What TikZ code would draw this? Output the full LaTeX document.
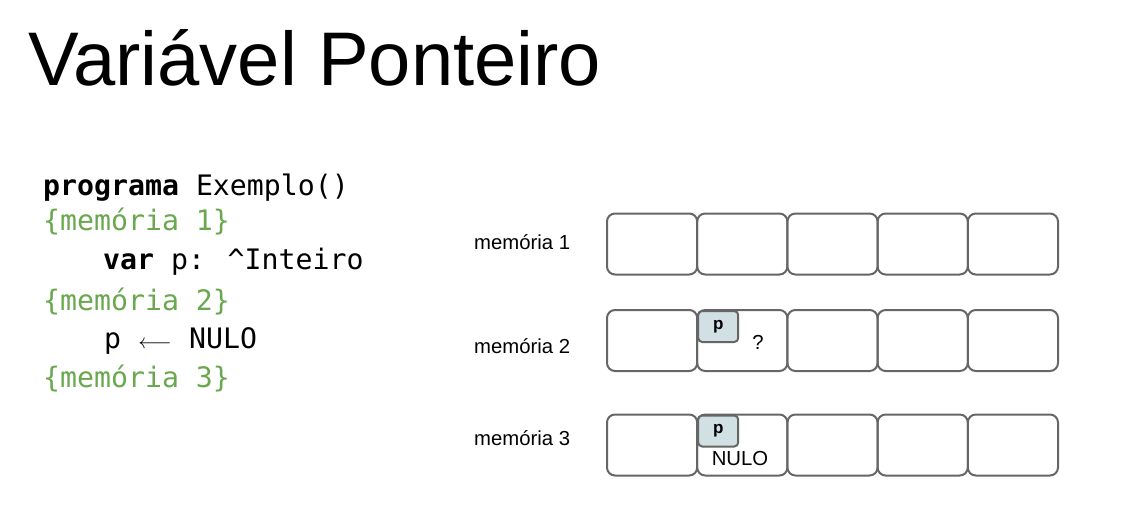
\documentclass[tikz,border=0pt]{standalone}
\usepackage{fontspec}
\setmainfont{Liberation Sans}
\newfontfamily\codefont{DejaVu Sans Mono}
\definecolor{cgreen}{HTML}{6AA84F}
\definecolor{cellgray}{HTML}{666666}
\definecolor{pfill}{HTML}{D0E0E3}
\begin{document}
\begin{tikzpicture}[x=1pt,y=-1pt,
  cell/.style={draw=cellgray,line width=2pt,rounded corners=8pt,minimum width=90.2pt,minimum height=61pt,inner sep=0pt},
  pbox/.style={draw=cellgray,fill=pfill,line width=2pt,rounded corners=4pt,minimum width=40pt,minimum height=31pt,inner sep=0pt,font=\fontsize{17}{17}\selectfont\bfseries},
  code/.style={anchor=base west,inner sep=0pt,font=\codefont\fontsize{28.2}{30}\selectfont},
  lbl/.style={anchor=base west,inner sep=0pt,font=\fontsize{20.3}{22}\selectfont},
  val/.style={inner sep=0pt,font=\fontsize{20.3}{22}\selectfont}]
\useasboundingbox (0,0) rectangle (1135,522);
\node[anchor=base west,inner sep=0pt,font=\fontsize{76}{80}\selectfont] (title) at (28,85) {Variável Ponteiro};
% code
\node[code] (c1) at (43,195) {\textbf{programa} Exemplo()};
\node[code,text=cgreen] (c2) at (43,230) {\{memória 1\}};
\node[code] (c3) at (103,269) {\textbf{var} p: \textasciicircum Inteiro};
\node[code,text=cgreen] (c4) at (43,310) {\{memória 2\}};
\node[code] (c5) at (104,348) {p \makebox[34pt][c]{\fontsize{21}{21}\selectfont$\longleftarrow$} NULO};
\node[code,text=cgreen] (c6) at (43,387) {\{memória 3\}};
% labels
\node[lbl] (l1) at (474,249.5) {memória 1};
\node[lbl] (l2) at (474,353.5) {memória 2};
\node[lbl] (l3) at (474,445.5) {memória 3};
% cells
\foreach \r/\y in {1/244,2/340.5,3/445}{
  \foreach \c in {1,...,5}{
    \node[cell] (m\r c\c) at ({607+90.2*(\c-0.5)},\y) {};
  }
}
\node[pbox,anchor=north west] (p2) at ([xshift=1pt,yshift=-1pt]m2c2.north west) {p};
\node[pbox,anchor=north west] (p3) at ([xshift=1pt,yshift=-1pt]m3c2.north west) {p};
\node[val] (q) at (758,342) {?};
\node[val] (nulo) at (740,459) {NULO};
\end{tikzpicture}
\end{document}
